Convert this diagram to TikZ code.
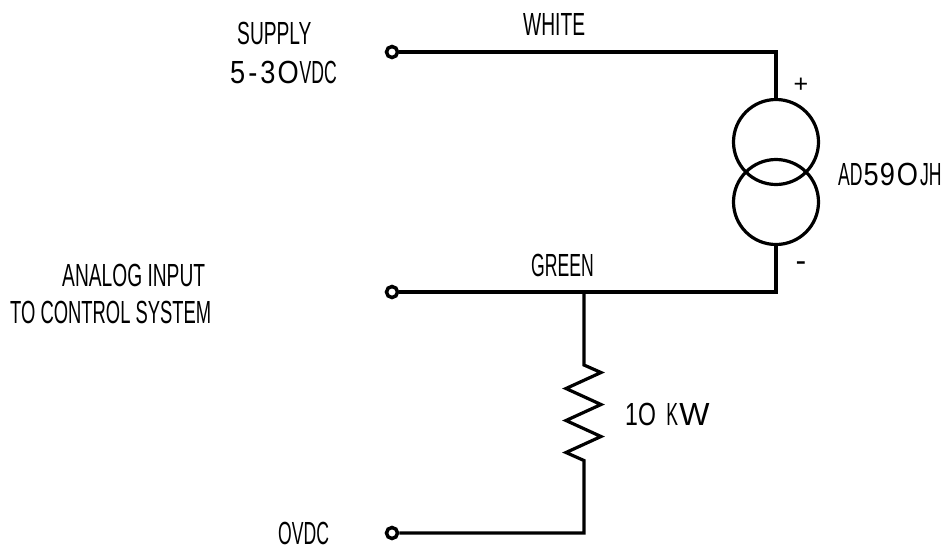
\documentclass[tikz,border=0pt]{standalone}
\usepackage{fontspec}
\setmainfont{Liberation Sans}
\newfontfamily\narf[FakeStretch=0.6]{Liberation Sans}
\newfontfamily\nars[FakeStretch=0.55]{Liberation Sans}
\newfontfamily\narm[FakeStretch=0.575]{Liberation Sans}
\newfontfamily\midf[FakeStretch=0.72]{Liberation Sans}
\newfontfamily\rndf[FakeStretch=0.85]{Liberation Sans}
\newcommand{\lblsize}{\fontsize{32}{32}\selectfont}
\begin{document}
\begin{tikzpicture}[x=1pt,y=-1pt,
  wire/.style={line width=3.2pt,black,line join=miter,line cap=butt},
  terminal/.style={circle,draw=black,line width=3.5pt,fill=white,minimum size=11pt,inner sep=0pt},
  source/.style={circle,draw=black,line width=3.2pt,minimum size=85pt,inner sep=0pt},
  lbl/.style={inner sep=0pt,anchor=base west,font=\lblsize\narf},
  sign/.style={inner sep=0pt,anchor=base,font=\fontsize{25}{25}\selectfont}]
\useasboundingbox (0,0) rectangle (950,550);
\node[source] (s1) at (776,142) {};
\node[source] (s2) at (776,202) {};
\coordinate (c1) at (776,52);
\coordinate (c2) at (776,292);
\coordinate (j) at (584,292);
\coordinate (c3) at (584,533);
\node[terminal] (t1) at (392,52) {};
\node[terminal] (t2) at (392,292) {};
\node[terminal] (t3) at (392,533) {};
\draw[wire] (t1) -- (c1) -- (s1);
\draw[wire] (s2) -- (c2) -- (t2);
\draw[wire] (j) -- (584,365) -- (601,372.5) -- (566,388.5) -- (601,404.5) -- (566,420.5) -- (601,436.5) -- (566,452.5) -- (584,460.5) -- (c3) -- (t3);
\node[lbl] (l1) at (237,44) {SUPPLY};
\node[lbl] (l2) at (230,83) {{\rndf 5\kern3pt-\kern3pt3\kern2pt O}\kern1pt{\nars VDC}};
\node[lbl] (l3) at (523,35) {WHITE};
\node[lbl] (l4) at (62,286) {ANALOG INPUT};
\node[lbl] (l5) at (10,323) {\narm TO CONTROL SYSTEM};
\node[lbl] (l6) at (531,276) {\nars GREEN};
\node[lbl] (l7) at (278,544) {\nars OVDC};
\node[lbl] (l8) at (625,425) {{\midf 1O} \hspace{5pt}{\nars K} {\rmfamily\hspace{-4pt}W}};
\node[lbl] (l9) at (838,185) {{\nars AD}{\rndf \kern1pt5\kern1pt9\kern2pt O}\kern2pt{\nars JH}};
\node[sign] (p) at (801,92) {+};
\node[sign,font=\lblsize] (m) at (801,271) {-};
\end{tikzpicture}
\end{document}
